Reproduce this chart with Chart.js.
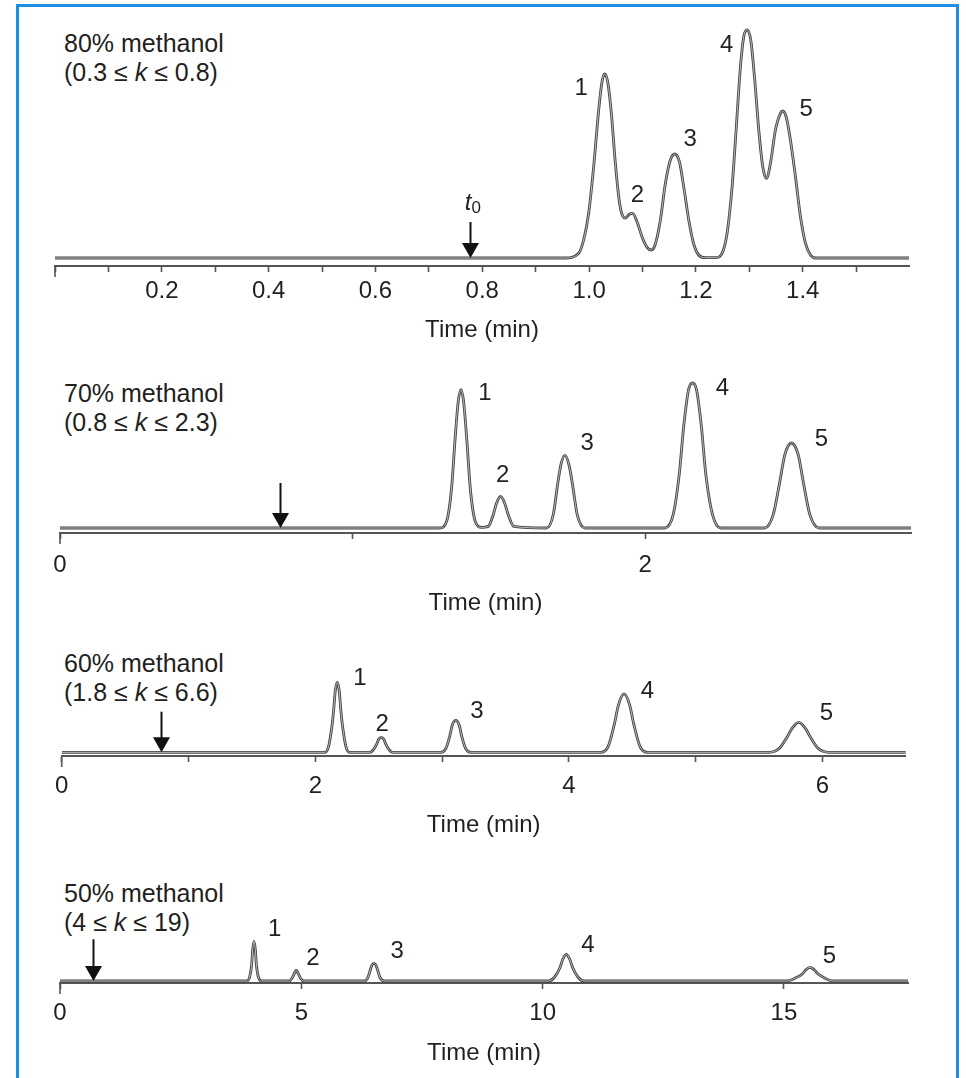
<!DOCTYPE html>
<html>
<head>
<meta charset="utf-8">
<script src="https://cdn.jsdelivr.net/npm/chart.js@4.4.1/dist/chart.umd.min.js"></script>
<style>
  html, body { margin: 0; padding: 0; background: #fff; }
  body { width: 966px; height: 1078px; position: relative; overflow: hidden;
         font-family: "Liberation Sans", Arial, Helvetica, sans-serif; color: #231f20; }
  .frame { position: absolute; left: 16px; top: 4px; width: 943px; height: 1100px;
           border: 3px solid #1c8ee3; box-sizing: border-box; }
  .title { position: absolute; left: 64px; font-size: 25px; line-height: 28.5px; white-space: nowrap; }
  canvas { position: absolute; left: 0; }
</style>
</head>
<body>
<div class="frame"></div>

<div class="title" style="top:29px">80% methanol<br>(0.3 ≤ <i>k</i> ≤ 0.8)</div>
<div class="title" style="top:379px">70% methanol<br>(0.8 ≤ <i>k</i> ≤ 2.3)</div>
<div class="title" style="top:649px">60% methanol<br>(1.8 ≤ <i>k</i> ≤ 6.6)</div>
<div class="title" style="top:879px">50% methanol<br>(4 ≤ <i>k</i> ≤ 19)</div>

<canvas id="c80" width="966" height="350" style="top:0px"></canvas>
<canvas id="c70" width="966" height="273" style="top:350px"></canvas>
<canvas id="c60" width="966" height="222" style="top:623px"></canvas>
<canvas id="c50" width="966" height="228" style="top:845px"></canvas>

<script>
// detector trace: time (min) and signal (arbitrary units)
const time80 = [0, 0.9555, 0.9805, 0.9898, 0.9992, 1.0086, 1.0180, 1.0242, 1.0292, 1.0348, 1.0417, 1.0492,
  1.0567, 1.0629, 1.0679, 1.0754, 1.0817, 1.0898, 1.0991, 1.1085, 1.1166, 1.1241, 1.1335, 1.1429, 1.1522,
  1.1603, 1.1691, 1.1772, 1.1866, 1.1959, 1.2053, 1.2178, 1.2365, 1.2490, 1.2584, 1.2678, 1.2753, 1.2834,
  1.2896, 1.2959, 1.3027, 1.3102, 1.3177, 1.3252, 1.3321, 1.3396, 1.3489, 1.3583, 1.3627, 1.3689, 1.3770,
  1.3864, 1.3958, 1.4052, 1.4145, 1.4239, 1.6];
const signal80 = [0, 0, 4.7, 18, 44.7, 91.3, 148, 176.3, 184, 176.3, 144.7, 94.7,
  56.3, 42, 40, 43.7, 44.7, 36.3, 21.3, 10.7, 8, 14, 38, 74.7, 98,
  104, 96.3, 71.3, 38, 14, 3, 0.3, 0.3, 4.7, 24.7, 71.3, 128, 191.3,
  221.3, 228, 218, 178, 128, 91.3, 79.7, 94.7, 128, 144.7, 147, 141.3, 118,
  81.3, 41.3, 14.7, 3, 0, 0];

const time70 = [0, 1.2982, 1.3210, 1.3381, 1.3495, 1.3609, 1.3700, 1.3791, 1.3905, 1.4019, 1.4190, 1.4406,
  1.4634, 1.4805, 1.4919, 1.5055, 1.5192, 1.5317, 1.5511, 1.6627, 1.6855, 1.7003, 1.7117, 1.7253, 1.7390,
  1.7515, 1.7674, 1.7937, 2.0670, 2.0954, 2.1159, 2.1319, 2.1478, 2.1615, 2.1751, 2.1911, 2.2070, 2.2298,
  2.2571, 2.4086, 2.4371, 2.4599, 2.4769, 2.4997, 2.5225, 2.5396, 2.5624, 2.5942, 2.91];
const signal70 = [0, 0, 6.6, 40, 86.6, 126.6, 138.3, 126.6, 86.6, 40, 6.6, 0.6,
  1.6, 13.3, 25, 31.6, 25, 13.3, 1.6, 0, 13.3, 43.3, 63.3, 72.6, 63.3,
  43.3, 13.3, 0, 0, 13.3, 53.3, 103.3, 138.3, 145, 138.3, 103.3, 53.3, 13.3,
  0, 0, 13.3, 46.6, 73.3, 85, 73.3, 46.6, 13.3, 0, 0];

const time60 = [0, 2.075, 2.105, 2.130, 2.143, 2.158, 2.173, 2.188, 2.203, 2.216, 2.241, 2.27,
  2.43, 2.46, 2.485, 2.50, 2.52, 2.54, 2.555, 2.58, 2.61,
  2.99, 3.03, 3.06, 3.08, 3.108, 3.135, 3.155, 3.185, 3.225,
  4.25, 4.31, 4.36, 4.39, 4.435, 4.48, 4.51, 4.56, 4.62,
  5.58, 5.66, 5.72, 5.76, 5.812, 5.865, 5.905, 5.965, 6.05, 6.66];
const signal60 = [0, 0, 6, 25, 40, 62, 70, 62, 40, 25, 6, 0,
  0, 3, 8.5, 13, 15, 13, 8.5, 3, 0,
  0, 4, 16, 27, 32, 27, 16, 4, 0,
  0, 6, 29, 47, 58.5, 47, 29, 6, 0,
  0, 4, 15, 24, 30, 24, 15, 4, 0, 0];

const time50 = [0, 3.87, 3.93, 3.97, 3.99, 4.02, 4.05, 4.07, 4.11, 4.18,
  4.75, 4.81, 4.86, 4.895, 4.93, 4.98, 5.05,
  6.31, 6.38, 6.43, 6.46, 6.505, 6.55, 6.58, 6.63, 6.72,
  10.12, 10.25, 10.36, 10.42, 10.49, 10.56, 10.62, 10.73, 10.86,
  15.05, 15.22, 15.38, 15.45, 15.54, 15.63, 15.71, 15.86, 16.02, 17.57];
const signal50 = [0, 0, 4, 16, 30, 39.5, 30, 16, 4, 0,
  0, 3, 8, 10.5, 8, 3, 0,
  0, 3.5, 11, 15.5, 17.7, 15.5, 11, 3.5, 0,
  0, 4, 13.5, 22, 26.7, 22, 13.5, 4, 0,
  0, 2.5, 7, 11, 13.7, 11, 7, 2.5, 0, 0];

// peak numbers and their retention times
const peakNames = ['1', '2', '3', '4', '5'];
const rt80 = [1.0292, 1.0817, 1.1603, 1.2959, 1.3627];
const rt70 = [1.3700, 1.5055, 1.7253, 2.1615, 2.4997];
const rt60 = [2.173, 2.52, 3.108, 4.435, 5.812];
const rt50 = [4.02, 4.895, 6.505, 10.49, 15.54];

// dead time t0 marker
const t0Times = [0.777, 0.752, 0.78, 0.69];

// axis ranges and labelled ticks
const axisMax = [1.599, 2.908, 6.656, 17.57];
const tickStep = [0.1, 1, 1, 5];
const tickLabels80 = [0.2, 0.4, 0.6, 0.8, 1.0, 1.2, 1.4];
const tickLabels70 = [0, 2];
const tickLabels60 = [0, 2, 4, 6];
const tickLabels50 = [0, 5, 10, 15];

const FONT = '"Liberation Sans", Arial, Helvetica, sans-serif';
const INK = '#231f20';
const AXIS = '#555';

function marks(p) {
  return {
    id: 'marks',
    afterDraw(chart) {
      const ctx = chart.ctx;
      const x = chart.scales.x, y = chart.scales.y;
      ctx.save();
      // longer tick at zero
      ctx.strokeStyle = AXIS; ctx.lineWidth = 1.6;
      const x0 = x.getPixelForValue(0);
      ctx.beginPath(); ctx.moveTo(x0, x.top); ctx.lineTo(x0, x.top + 11); ctx.stroke();

      // t0 arrow
      const ax = Math.round(x.getPixelForValue(p.t0)) + 0.5;
      const tip = y.getPixelForValue(0);
      const top = tip - p.arrowLen;
      ctx.strokeStyle = '#111'; ctx.lineWidth = 2;
      ctx.beginPath(); ctx.moveTo(ax, top); ctx.lineTo(ax, tip - 12); ctx.stroke();
      ctx.fillStyle = '#111';
      ctx.beginPath(); ctx.moveTo(ax - 8.5, tip - 15); ctx.lineTo(ax + 8.5, tip - 15); ctx.lineTo(ax, tip); ctx.closePath(); ctx.fill();
      if (p.t0Label) {
        ctx.fillStyle = INK;
        ctx.textBaseline = 'alphabetic';
        ctx.font = 'italic 24px ' + FONT;
        ctx.textAlign = 'right';
        ctx.fillText('t', ax + 1, top - 12);
        ctx.font = '17px ' + FONT;
        ctx.textAlign = 'left';
        ctx.fillText('0', ax + 1, top - 9);
      }

      // peak numbers next to each apex
      ctx.font = '24px ' + FONT;
      ctx.fillStyle = INK;
      ctx.textAlign = 'center';
      ctx.textBaseline = 'middle';
      p.rt.forEach((t, i) => {
        let best = 0;
        p.time.forEach((tt, j) => { if (Math.abs(tt - t) < Math.abs(p.time[best] - t)) best = j; });
        const px = x.getPixelForValue(t) + p.off[i][0];
        const py = y.getPixelForValue(p.signal[best]) + p.off[i][1];
        ctx.fillText(peakNames[i], px, py);
      });
      ctx.restore();
    }
  };
}

function panel(id, p) {
  const pts = p.time.map((t, i) => ({ x: t, y: p.signal[i] }));
  return new Chart(document.getElementById(id), {
    type: 'line',
    data: {
      datasets: [
        { data: pts, borderColor: '#bdbdbd', borderWidth: 1.0, pointRadius: 0, cubicInterpolationMode: 'monotone' },
        { data: pts, borderColor: '#444444', borderWidth: 2.8, pointRadius: 0, cubicInterpolationMode: 'monotone' }
      ]
    },
    options: {
      responsive: false,
      animation: false,
      events: [],
      layout: { padding: { left: p.left, right: 966 - p.right, top: 0, bottom: 0 } },
      plugins: { legend: { display: false }, tooltip: { enabled: false } },
      scales: {
        x: {
          type: 'linear',
          min: 0,
          max: p.max,
          grid: { drawOnChartArea: false, drawTicks: true, tickLength: 6, tickColor: AXIS, tickWidth: 1.6 },
          border: { display: true, color: AXIS, width: 2 },
          ticks: {
            stepSize: p.step,
            includeBounds: false,
            autoSkip: false,
            maxRotation: 0,
            padding: p.labelPad,
            color: INK,
            font: { family: FONT, size: 24 },
            callback: (v) => p.labels.some(l => Math.abs(l - v) < 1e-6) ? p.fmt(v) : ''
          },
          title: {
            display: true,
            text: 'Time (min)',
            color: INK,
            font: { family: FONT, size: 24 },
            padding: { top: 0, bottom: 5.5 }
          },
          afterFit: (s) => { s.height = p.axisH; }
        },
        y: { display: false, min: p.ymin, max: p.ymax }
      }
    },
    plugins: [marks(p)]
  });
}

panel('c80', {
  time: time80, signal: signal80, rt: rt80, t0: t0Times[0], t0Label: true, arrowLen: 36,
  off: [[-23.6, 14.3], [4.6, -18.3], [15.4, -14.7], [-20.4, 15.7], [23.4, -1.7]],
  left: 55, right: 909, max: axisMax[0], step: tickStep[0], labels: tickLabels80, fmt: v => v.toFixed(1),
  labelPad: 5, axisH: 84, ymin: -8, ymax: 258
});
panel('c70', {
  time: time70, signal: signal70, rt: rt70, t0: t0Times[1], arrowLen: 45,
  off: [[24, 3.3], [2, -21], [22.3, -12.4], [30, 5], [30, -3.3]],
  left: 60, right: 911, max: axisMax[1], step: tickStep[1], labels: tickLabels70, fmt: v => String(v),
  labelPad: 12, axisH: 90, ymin: -5, ymax: 178
});
panel('c60', {
  time: time60, signal: signal60, rt: rt60, t0: t0Times[2], arrowLen: 40.6,
  off: [[22.7, -4], [1, -13], [21, -9], [23.3, -2.3], [27.7, -9.3]],
  left: 61.7, right: 905.7, max: axisMax[2], step: tickStep[2], labels: tickLabels60, fmt: v => String(v),
  labelPad: 10, axisH: 89, ymin: -3.7, ymax: 129.3
});
panel('c50', {
  time: time50, signal: signal50, rt: rt50, t0: t0Times[3], arrowLen: 41.7,
  off: [[20.7, -11.7], [16.7, -12.4], [23.3, -11.6], [21.7, -9.3], [19.3, -11.3]],
  left: 60, right: 908, max: axisMax[3], step: tickStep[3], labels: tickLabels50, fmt: v => String(v),
  labelPad: 10, axisH: 90, ymin: -2, ymax: 136
});
</script>
</body>
</html>
